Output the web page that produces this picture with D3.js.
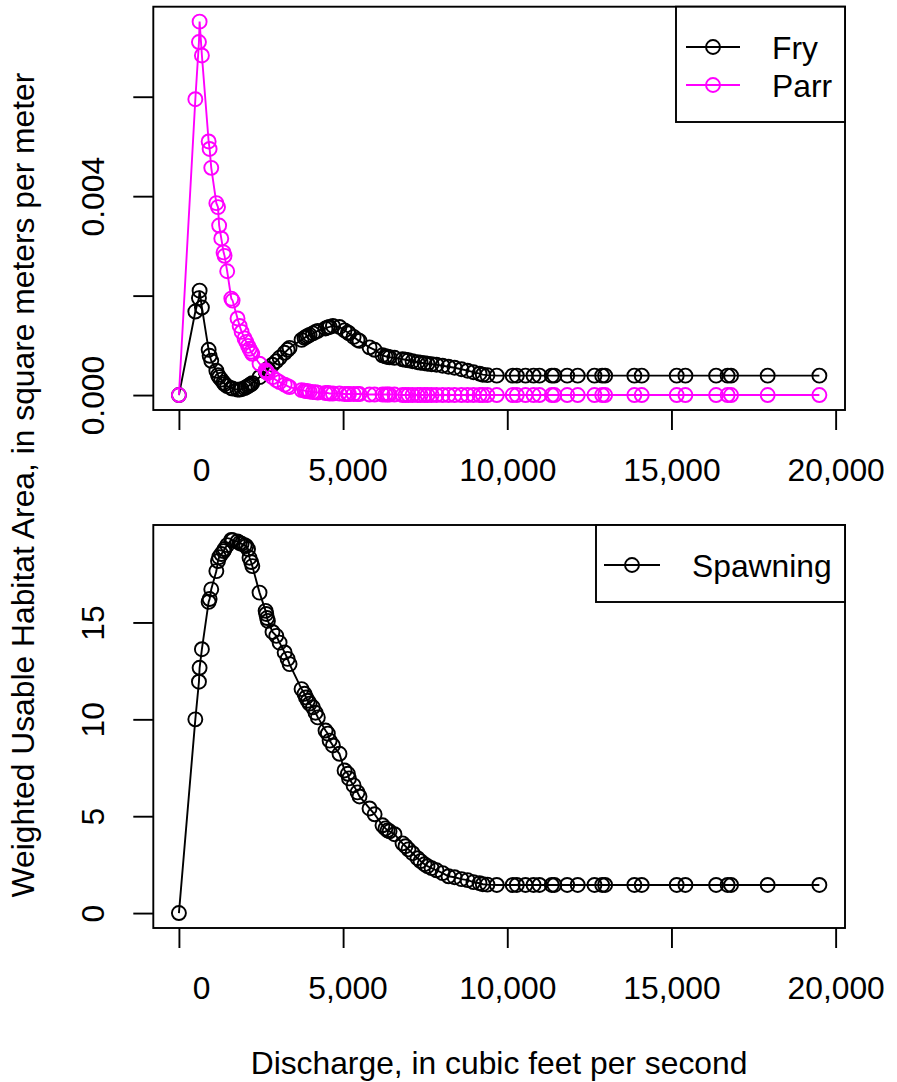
<!DOCTYPE html>
<html>
<head>
<meta charset="utf-8">
<script src="https://cdn.jsdelivr.net/npm/d3@7"></script>
<style>
  html, body { margin: 0; padding: 0; background: #fff; }
  text { font-family: "Liberation Sans", Arial, Helvetica, sans-serif; fill: #000; white-space: pre; }
</style>
</head>
<body>
<svg id="chart" width="897" height="1082"></svg>
<script>
// ---- Data ----
const discharge = [0, 500, 610, 630, 700, 905, 935, 985, 1140, 1190, 1225, 1290, 1360, 1390, 1470, 1595, 1635,
  1785, 1850, 1910, 2000, 2050, 2105, 2150, 2200, 2235, 2455, 2640, 2660, 2685, 2710, 2850, 2965, 3065, 3220,
  3310, 3370, 3735, 3825, 3870, 3925, 3980, 4080, 4160, 4230, 4465, 4535, 4590, 4690, 4890, 5045, 5145, 5180,
  5320, 5440, 5500, 5805, 5960, 6200, 6290, 6355, 6415, 6565, 6810, 6900, 6990, 7115, 7265, 7360, 7480, 7570,
  7695, 7845, 8030, 8210, 8395, 8605, 8790, 8970, 9155, 9255, 9395, 9680, 10165, 10290, 10555, 10800, 10980,
  11355, 11435, 11825, 12145, 12655, 12890, 12980, 13870, 14095, 15160, 15425, 16360, 16710, 16815, 17930, 19505];

const fry = [0, 0.00168, 0.00195, 0.00210, 0.00176, 0.00091, 0.00079, 0.00069, 0.00049, 0.00040, 0.00036,
  0.00031, 0.00025, 0.00022, 0.00018, 0.00014, 0.00013, 0.00011, 0.00011, 0.00012, 0.00014, 0.00016, 0.00018,
  0.00020, 0.00022, 0.00024, 0.00036, 0.00047, 0.00049, 0.00051, 0.00053, 0.00061, 0.00068, 0.00075, 0.00085,
  0.00091, 0.00095, 0.00111, 0.00115, 0.00117, 0.00119, 0.00121, 0.00124, 0.00127, 0.00129, 0.00134, 0.00136,
  0.00137, 0.00139, 0.00137, 0.00130, 0.00126, 0.00124, 0.00117, 0.00111, 0.00109, 0.00096, 0.00091, 0.00080,
  0.00078, 0.00077, 0.00076, 0.00075, 0.00072, 0.00071, 0.00070, 0.00068, 0.00066, 0.00065, 0.00064, 0.00063,
  0.00062, 0.00061, 0.00059, 0.00057, 0.00055, 0.00052, 0.00049, 0.00046, 0.00043, 0.00041, 0.00040, 0.00039,
  0.00039, 0.00039, 0.00039, 0.00039, 0.00039, 0.00039, 0.00039, 0.00039, 0.00039, 0.00039, 0.00039, 0.00039,
  0.00039, 0.00039, 0.00039, 0.00039, 0.00039, 0.00039, 0.00039, 0.00039, 0.00039];

const parr = [0, 0.00595, 0.00710, 0.00751, 0.00683, 0.00510, 0.00495, 0.00457, 0.00386, 0.00378, 0.00341,
  0.00315, 0.00287, 0.00280, 0.00249, 0.00194, 0.00190, 0.00154, 0.00139, 0.00127, 0.00114, 0.00107, 0.00099,
  0.00093, 0.00087, 0.00083, 0.00063, 0.00050, 0.00048, 0.00046, 0.00044, 0.00036, 0.00030, 0.00026, 0.00021,
  0.00018, 0.00016, 0.00010, 0.00009, 0.00008, 0.00008, 0.00007, 0.00006, 0.00006, 0.00005, 0.00004, 0.00004,
  0.00003, 0.00003, 0.00003, 0.00002, 0.00002, 0.00002, 0.00002, 0.00002, 0.00002, 0.00001, 0.00001, 0.00001,
  0.00001, 0.00001, 0.00001, 0.00001, 0, 0, 0, 0, 0, 0, 0, 0, 0, 0, 0, 0, 0, 0, 0, 0, 0, 0, 0, 0, 0, 0, 0, 0, 0,
  0, 0, 0, 0, 0, 0, 0, 0, 0, 0, 0, 0, 0, 0, 0, 0];

const spawning = [0, 10.0, 11.94, 12.66, 13.62, 16.06, 16.21, 16.71, 17.65, 18.17, 18.37, 18.53, 18.68, 18.79,
  18.99, 19.26, 19.24, 19.18, 19.1, 19.06, 18.99, 18.94, 18.79, 18.34, 18.12, 17.91, 16.54, 15.6, 15.44, 15.23,
  15.08, 14.51, 14.31, 13.96, 13.45, 13.12, 12.85, 11.56, 11.32, 11.13, 10.96, 10.81, 10.62, 10.34, 10.10, 9.42,
  9.26, 8.90, 8.65, 8.22, 7.36, 7.19, 6.95, 6.59, 6.23, 6.02, 5.40, 5.10, 4.53, 4.37, 4.27, 4.22, 4.07, 3.60,
  3.45, 3.29, 3.09, 2.83, 2.68, 2.52, 2.42, 2.32, 2.21, 2.06, 1.90, 1.85, 1.75, 1.70, 1.60, 1.54, 1.49, 1.47,
  1.45, 1.45, 1.45, 1.45, 1.45, 1.45, 1.45, 1.45, 1.45, 1.45, 1.45, 1.45, 1.45, 1.45, 1.45, 1.45, 1.45, 1.45,
  1.45, 1.45, 1.45, 1.45];

const xTicks = [0, 5000, 10000, 15000, 20000];
const xTickLabels = ["     0", " 5,000", "10,000", "15,000", "20,000"];
const topYTicks = [0, 0.002, 0.004, 0.006];
const topYTickLabels = ["0.000", "", "0.004", ""];
const botYTicks = [0, 5, 10, 15];
const botYTickLabels = ["0", "5", "10", "15"];
const topSeries = ["Fry", "Parr"];
const botSeries = ["Spawning"];
const xTitle = "Discharge, in cubic feet per second";
const yTitle = "Weighted Usable Habitat Area, in square meters per meter";

// ---- Layout ----
const svg = d3.select("#chart");
const FS = 31.8;
const SW = 1.9;
const CR = 7;
const L = 153.3, R = 845;
const panels = [
  { top: 6.7, bottom: 410, series: [fry, parr], colors: ["#000000", "#FF00FF"], names: topSeries,
    yTicks: topYTicks, yLabels: topYTickLabels,
    legend: { x0: 676, y0: 6.7, x1: 845, y1: 122, rows: [47, 85], lx0: 686, lx1: 740, tx: 772 } },
  { top: 525, bottom: 928, series: [spawning], colors: ["#000000"], names: botSeries,
    yTicks: botYTicks, yLabels: botYTickLabels,
    legend: { x0: 596, y0: 525, x1: 845, y1: 602, rows: [565], lx0: 604, lx1: 660, tx: 692 } }
];

function padded(lo, hi) { const r = hi - lo; return [lo - 0.04 * r, hi + 0.04 * r]; }

const x = d3.scaleLinear().domain(padded(0, d3.max(discharge))).range([L, R]);

panels.forEach(p => {
  const allY = p.series.flat();
  const y = d3.scaleLinear().domain(padded(d3.min(allY), d3.max(allY))).range([p.bottom, p.top]);

  // lines and points
  p.series.forEach((s, si) => {
    const pts = discharge.map((d, i) => [d, s[i]]);
    const g = svg.append("g");
    g.append("path")
      .datum(pts)
      .attr("fill", "none")
      .attr("stroke", p.colors[si])
      .attr("stroke-width", SW)
      .attr("d", d3.line().x(d => x(d[0])).y(d => y(d[1])));
    g.selectAll("circle").data(pts).join("circle")
      .attr("cx", d => x(d[0]))
      .attr("cy", d => y(d[1]))
      .attr("r", CR)
      .attr("fill", "none")
      .attr("stroke", p.colors[si])
      .attr("stroke-width", SW);
  });

  // box
  svg.append("rect")
    .attr("x", L).attr("y", p.top)
    .attr("width", R - L).attr("height", p.bottom - p.top)
    .attr("fill", "none").attr("stroke", "#000").attr("stroke-width", SW);

  // x axis
  const xa = svg.append("g")
    .attr("transform", `translate(0,${p.bottom})`)
    .call(d3.axisBottom(x).tickValues(xTicks).tickSize(20)
      .tickFormat((d, i) => xTickLabels[i]));
  xa.select(".domain").remove();
  xa.selectAll(".tick line").attr("stroke", "#000").attr("stroke-width", SW);
  xa.selectAll(".tick text")
    .attr("font-size", FS)
    .attr("font-family", "Liberation Sans, Arial, sans-serif")
    .attr("fill", "#000")
    .style("white-space", "pre")
    .attr("y", 0)
    .attr("dy", 0)
    .attr("transform", "translate(0,71)");

  // y axis
  const ya = svg.append("g")
    .attr("transform", `translate(${L},0)`)
    .call(d3.axisLeft(y).tickValues(p.yTicks).tickSize(20)
      .tickFormat((d, i) => p.yLabels[i]));
  ya.select(".domain").remove();
  ya.selectAll(".tick line").attr("stroke", "#000").attr("stroke-width", SW);
  ya.selectAll(".tick text")
    .attr("font-size", FS)
    .attr("font-family", "Liberation Sans, Arial, sans-serif")
    .attr("fill", "#000")
    .attr("x", 0).attr("dy", 0)
    .attr("text-anchor", "middle")
    .attr("transform", "translate(-49,0) rotate(-90)");

  // legend
  const lg = p.legend;
  svg.append("rect")
    .attr("x", lg.x0).attr("y", lg.y0)
    .attr("width", lg.x1 - lg.x0).attr("height", lg.y1 - lg.y0)
    .attr("fill", "#fff").attr("stroke", "#000").attr("stroke-width", SW);
  p.names.forEach((n, i) => {
    const yy = lg.rows[i];
    svg.append("line")
      .attr("x1", lg.lx0).attr("x2", lg.lx1).attr("y1", yy).attr("y2", yy)
      .attr("stroke", p.colors[i]).attr("stroke-width", SW);
    svg.append("circle")
      .attr("cx", (lg.lx0 + lg.lx1) / 2).attr("cy", yy).attr("r", CR)
      .attr("fill", "none").attr("stroke", p.colors[i]).attr("stroke-width", SW);
    svg.append("text")
      .attr("x", lg.tx).attr("y", yy + 11.5)
      .attr("font-size", FS)
      .text(n);
  });
});

// titles
svg.append("text")
  .attr("x", 499).attr("y", 1073.5)
  .attr("text-anchor", "middle")
  .attr("font-size", FS)
  .text(xTitle);
svg.append("text")
  .attr("transform", "translate(33.5,485) rotate(-90)")
  .attr("text-anchor", "middle")
  .attr("font-size", FS)
  .text(yTitle);
</script>
</body>
</html>
